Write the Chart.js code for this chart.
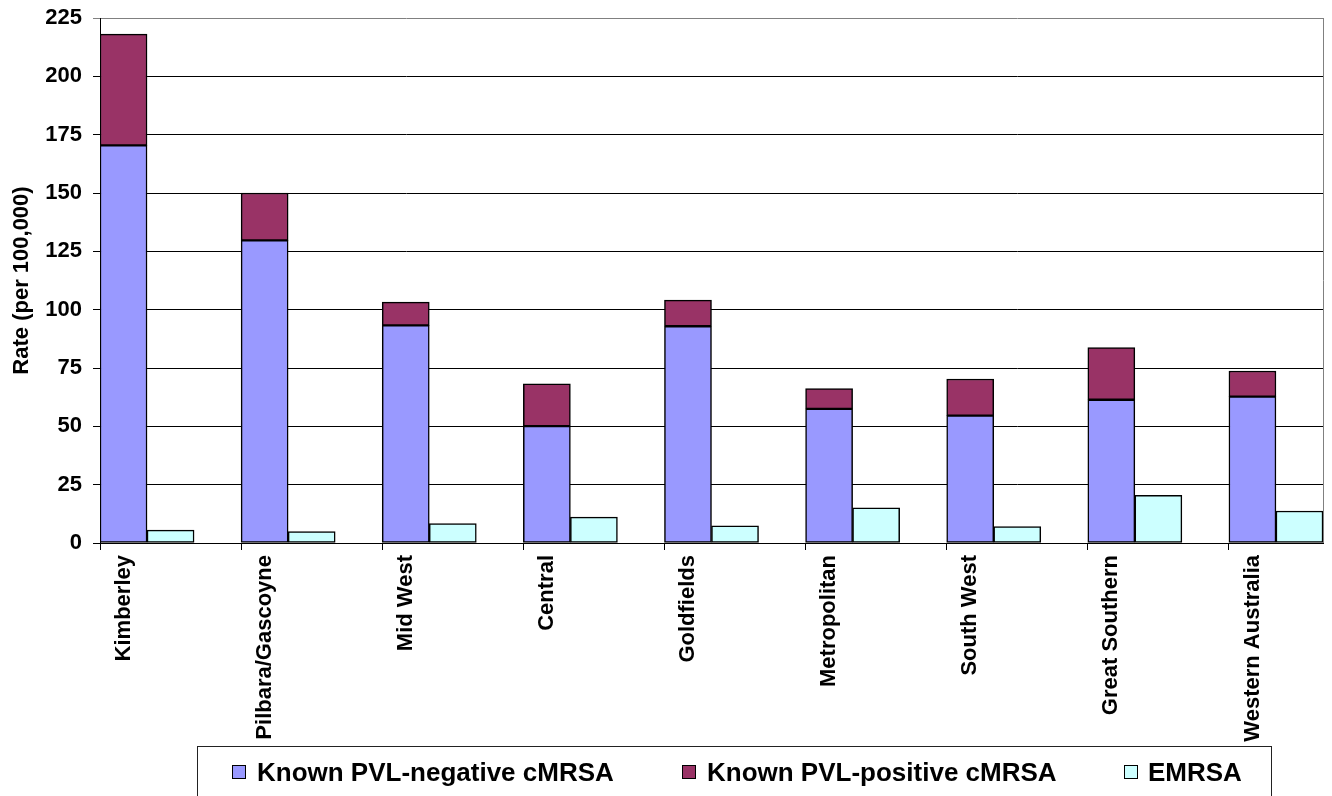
<!DOCTYPE html>
<html>
<head>
<meta charset="utf-8">
<script src="https://cdn.jsdelivr.net/npm/chart.js@4/dist/chart.umd.min.js"></script>
<style>
  body { margin: 0; background: #fff; }
  #wrap { position: relative; width: 1332px; height: 796px; overflow: hidden; background: #fff; }
  #legend { position: absolute; left: 197px; top: 746px; width: 1075px; height: 80px; border: 1px solid #222; box-sizing: border-box; }
  .item { position: absolute; top: 0; font: bold 26px "Liberation Sans", Arial, sans-serif; color: #000; white-space: nowrap; }
  .box { position: absolute; top: 18px; width: 14px; height: 14px; border: 1px solid #000; box-sizing: border-box; }
  .txt { position: absolute; top: 11px; line-height: 28px; }
</style>
</head>
<body>
<div id="wrap">
  <canvas id="chart" width="1332" height="796"></canvas>
  <div id="legend"></div>
</div>
<script>
const regions = ['Kimberley', 'Pilbara/Gascoyne', 'Mid West', 'Central', 'Goldfields', 'Metropolitan', 'South West', 'Great Southern', 'Western Australia'];
const pvlNegative = [170.4, 129.7, 93.3, 50.1, 92.9, 57.5, 54.6, 61.4, 62.7];
const pvlPositive = [47.7, 20.3, 9.9, 18.1, 11.2, 8.7, 15.7, 22.3, 11.0];
const emrsa = [5.5, 4.9, 8.3, 11.1, 7.4, 15.1, 7.0, 20.4, 13.7];
const seriesNames = ['Known PVL-negative cMRSA', 'Known PVL-positive cMRSA', 'EMRSA'];
const seriesColors = ['#9999FF', '#993366', '#CCFFFF'];
const yMax = 225;
const yStep = 25;

// excel layout: 3 slots per region (stack, emrsa, gap), last gap dropped
const nSlots = regions.length * 3 - 1;
function toSlots(values, offset) {
  const out = new Array(nSlots).fill(null);
  values.forEach((v, i) => { out[i * 3 + offset] = v; });
  return out;
}
const slotLabels = toSlots(regions, 0).map(l => l === null ? '' : l);

const font = '"Liberation Sans", Arial, sans-serif';

const plotBorder = {
  id: 'plotBorder',
  afterDraw(chart) {
    const a = chart.chartArea, c = chart.ctx;
    c.save();
    c.strokeStyle = '#808080';
    c.lineWidth = 1;
    c.beginPath();
    c.moveTo(Math.round(a.right) + 0.5, a.top);
    c.lineTo(Math.round(a.right) + 0.5, a.bottom);
    c.stroke();
    c.restore();
  }
};

const datasets = [pvlNegative, pvlPositive, emrsa].map((vals, k) => ({
  label: seriesNames[k],
  data: toSlots(vals, k === 2 ? 1 : 0),
  backgroundColor: seriesColors[k],
  borderColor: '#000',
  borderWidth: 1.5,
  borderSkipped: false,
  stack: 'all',
  barPercentage: 1,
  categoryPercentage: 1
}));

new Chart(document.getElementById('chart'), {
  type: 'bar',
  data: { labels: slotLabels, datasets: datasets },
  options: {
    responsive: false,
    animation: false,
    layout: { padding: { top: 18, right: 9, left: 0, bottom: 0 } },
    plugins: { legend: { display: false }, tooltip: { enabled: false } },
    scales: {
      x: {
        stacked: true,
        afterFit: s => { s.height = 253; s.paddingLeft = 0; s.paddingRight = 0; },
        grid: {
          offset: true,
          drawOnChartArea: false,
          tickLength: 7,
          color: ctx => (ctx.index !== undefined && ctx.index % 3 === 0) ? '#000' : 'rgba(0,0,0,0)'
        },
        border: { color: '#000', width: 1 },
        ticks: {
          autoSkip: false,
          maxRotation: 90,
          minRotation: 90,
          padding: 5,
          color: '#000',
          font: { family: font, size: 22, weight: 'bold' }
        }
      },
      y: {
        stacked: true,
        min: 0,
        max: yMax,
        afterFit: s => { s.width = 100; s.paddingTop = 0; s.paddingBottom = 0; },
        grid: {
          color: ctx => ctx.tick && ctx.tick.value === yMax ? '#808080' : '#000',
          tickLength: 7
        },
        border: { color: '#000', width: 1 },
        ticks: {
          stepSize: yStep,
          padding: 11,
          color: '#000',
          font: { family: font, size: 22, weight: 'bold' }
        },
        title: {
          display: true,
          text: 'Rate (per 100,000)',
          color: '#000',
          padding: { top: 9, bottom: 0 },
          font: { family: font, size: 22, weight: 'bold' }
        }
      }
    }
  },
  plugins: [plotBorder]
});

// legend (excel style box below the plot)
const legendX = [[34, 59], [484, 509], [926, 950]];
const legend = document.getElementById('legend');
seriesNames.forEach((name, k) => {
  const item = document.createElement('div');
  item.className = 'item';
  item.innerHTML = '<div class="box" style="left:' + legendX[k][0] + 'px;background:' + seriesColors[k] + '"></div>' +
    '<div class="txt" style="left:' + legendX[k][1] + 'px">' + name + '</div>';
  legend.appendChild(item);
});
</script>
</body>
</html>
